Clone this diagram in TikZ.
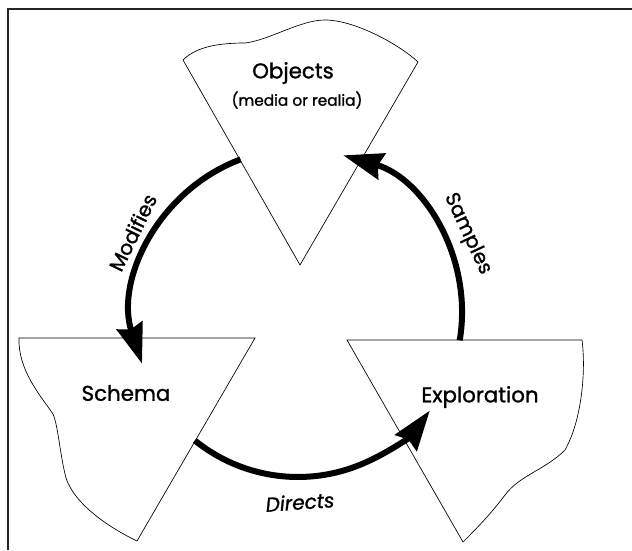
\documentclass[tikz,border=0pt]{standalone}
\usepackage{fontspec}
\setmainfont{Poppins}
\newfontfamily\heavy{Poppins}[FakeBold=1.2]
\usetikzlibrary{arrows.meta}

\begin{document}
\begin{tikzpicture}[x=0.75pt, y=0.75pt,
	piece/.style={draw=black, line width=0.5pt, fill=white},
	flow/.style={line width=4.5pt, -{Stealth[length=30pt, width=20pt, inset=3pt]}},
	title/.style={font=\heavy\fontsize{16}{18}\selectfont},
	verb/.style={font=\heavy\fontsize{15}{17}\selectfont}]
	\useasboundingbox (0,0) rectangle (632,550);

	% frame
	\draw[black!85, line width=2pt] (8,0) -- (8,541) -- (632,541);

	% the three pieces
	\draw[piece] (183,490) .. controls (195,502) and (215,507) .. (245,507)
		.. controls (270,510) and (300,530) .. (325,530)
		.. controls (355,530) and (400,505) .. (418,488) -- (300,285) -- cycle;
	\draw[piece] (19,212) -- (255,212) -- (137,9)
		.. controls (110,22) and (75,45) .. (66,72)
		.. controls (60,95) and (58,125) .. (53,136)
		.. controls (40,155) and (18,180) .. (19,212) -- cycle;
	\draw[piece] (347,210) -- (582,210)
		.. controls (586,180) and (582,130) .. (565,100)
		.. controls (545,80) and (520,75) .. (505,55)
		.. controls (490,35) and (475,20) .. (463,8) -- cycle;

	\node[title] (objects) at (293,477) {Objects};
	\node[font=\heavy\fontsize{11.5}{13}\selectfont] (realia) at (297,450) {(media or realia)};
	\node[title] (schema) at (126,157) {Schema};
	\node[title] (exploration) at (480,153) {Exploration};

	% cycle
	\coordinate (c) at (298,237);
	\draw[flow] (c) ++(110.5:164) arc[start angle=110.5, end angle=198, radius=164];
	\draw[flow] (c) ++(-9.6:164) arc[start angle=-9.6, end angle=74, radius=164];
	\draw[flow] (c) ++(231:164) arc[start angle=231, end angle=323.5, radius=164];

	\path (c) ++(154:184) node[verb, rotate=64] (modifies) {Modifies};
	\path (c) ++(25:187) node[verb, rotate=-65] (samples) {Samples};
	\node[verb, font=\heavy\fontsize{15}{17}\selectfont\itshape, rotate=4] (directs) at (300,48) {Directs};
\end{tikzpicture}
\end{document}
